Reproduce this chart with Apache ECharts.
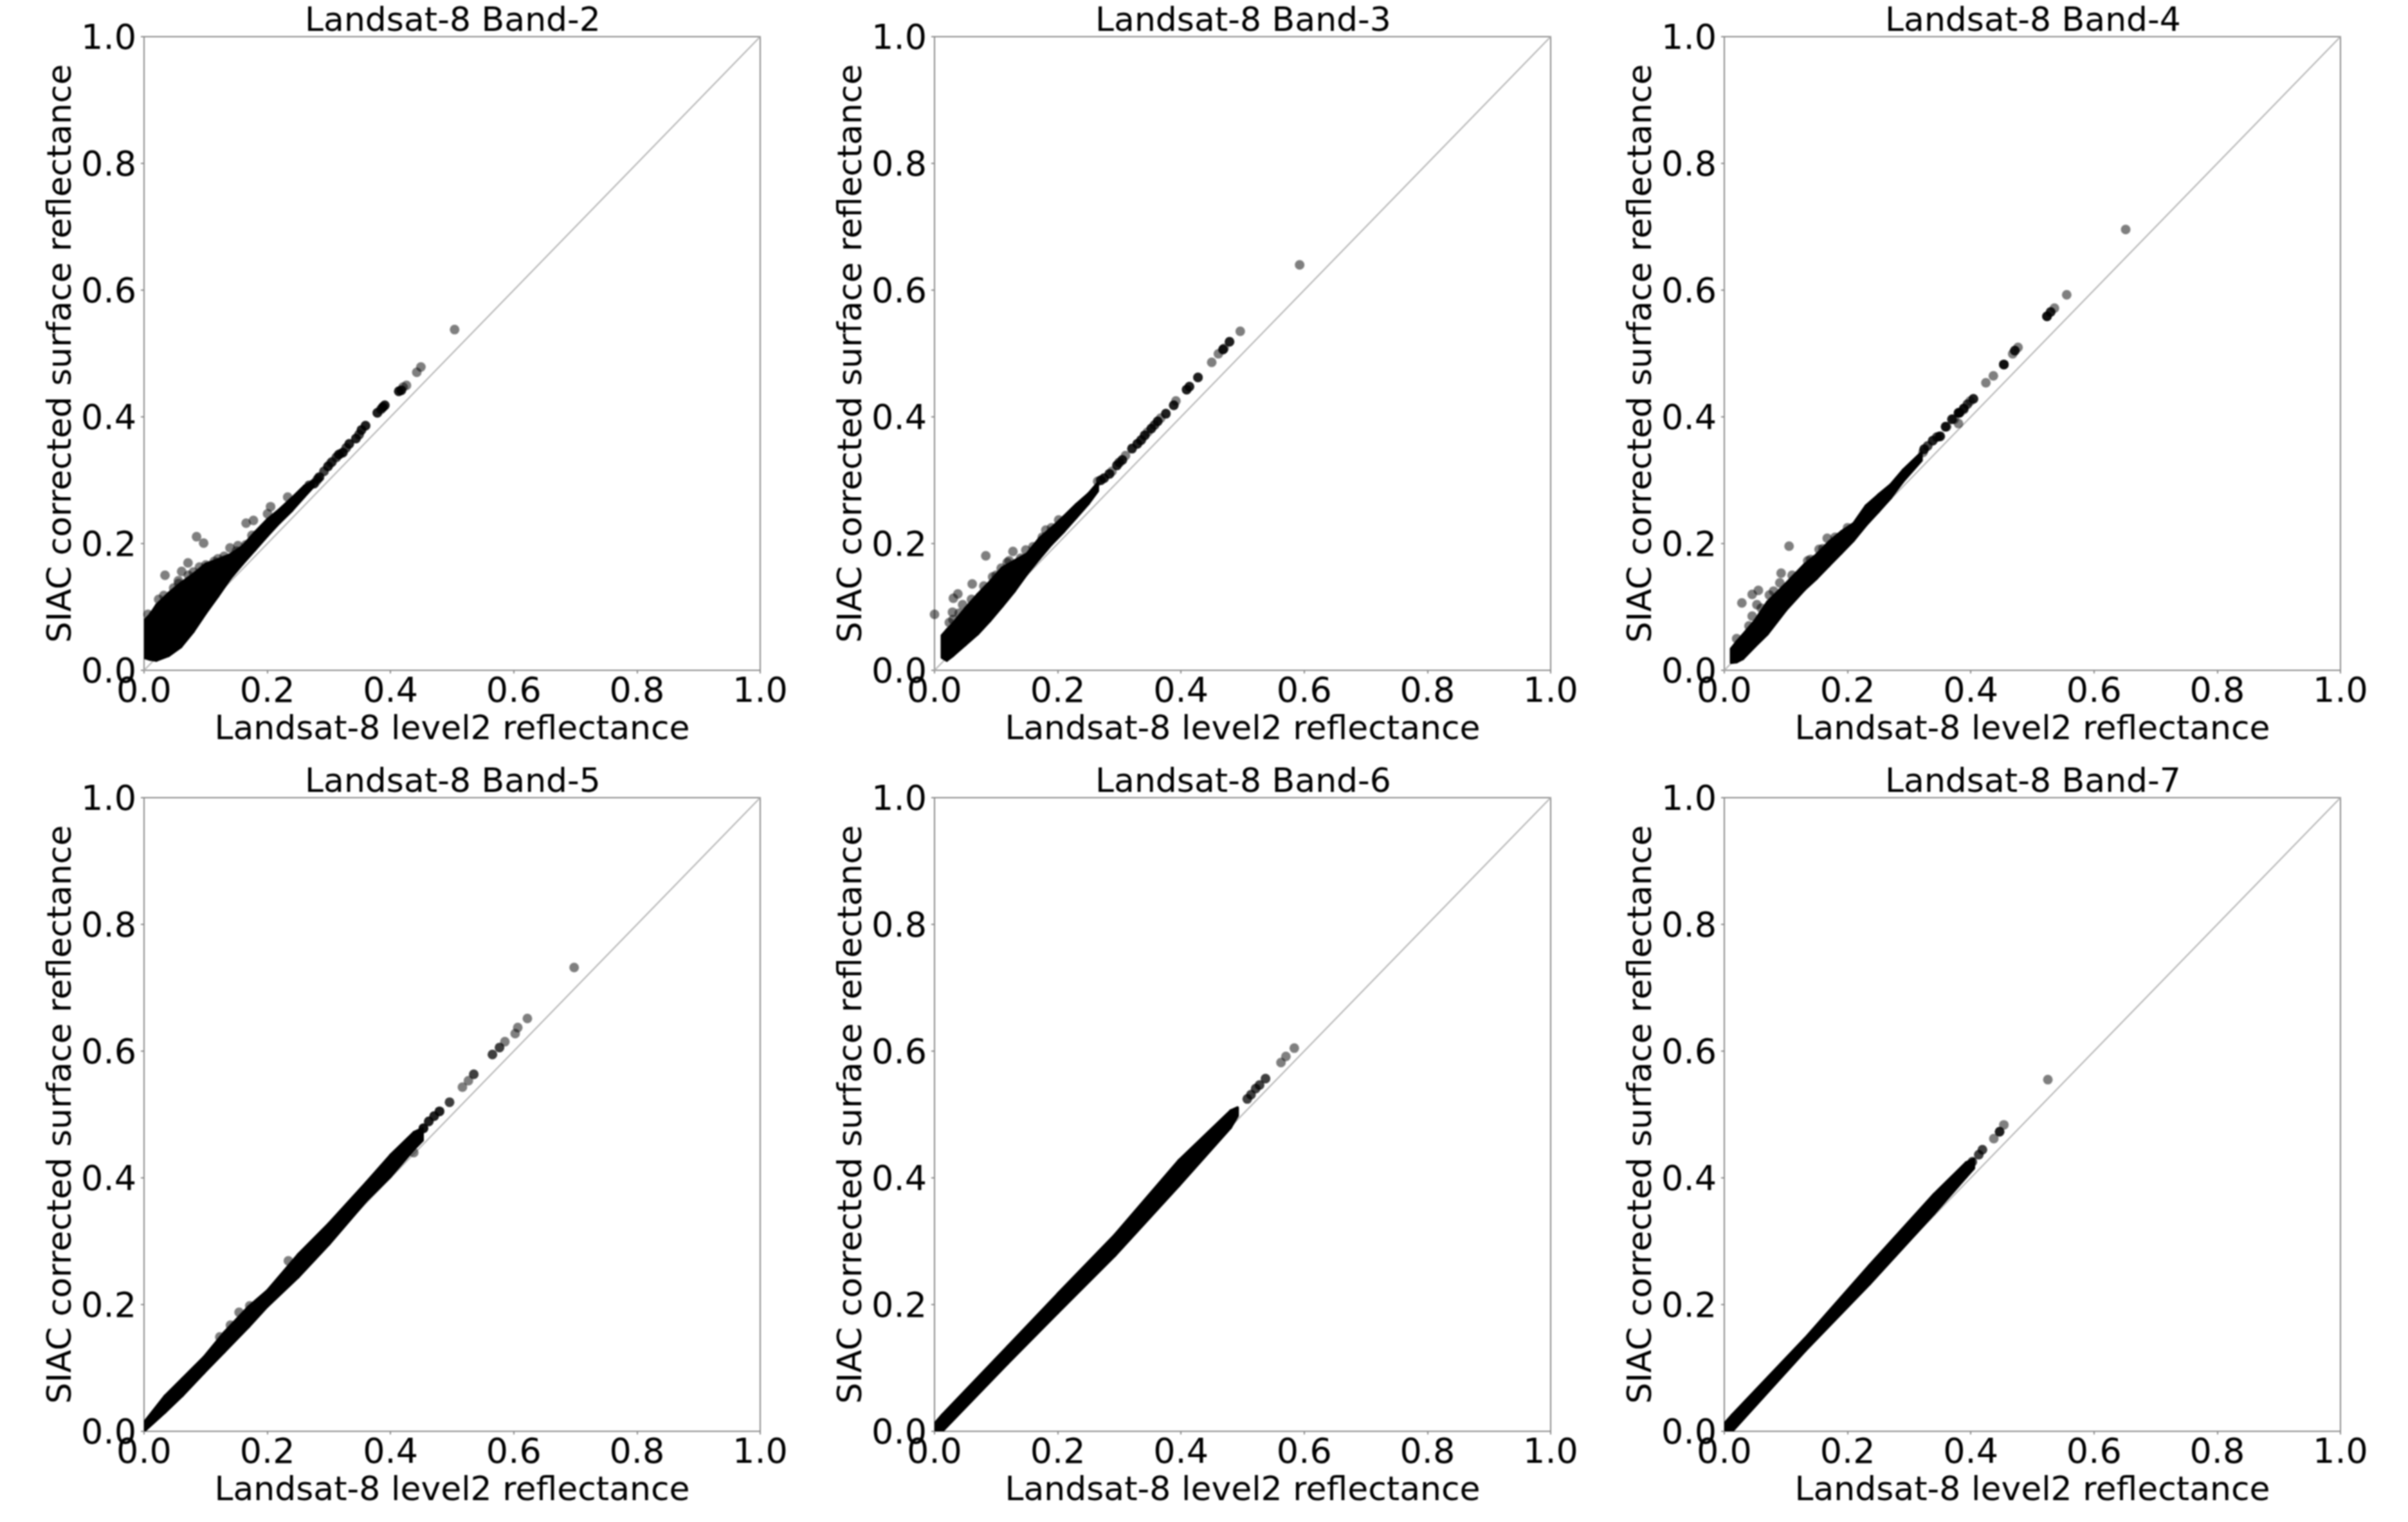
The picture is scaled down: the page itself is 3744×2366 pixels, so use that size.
<!DOCTYPE html>
<html><head><meta charset="utf-8">
<style>html,body{margin:0;padding:0;background:#fff}#c{width:3744px;height:2366px;filter:blur(1px)}</style>
<script src="https://cdn.jsdelivr.net/npm/echarts@6/dist/echarts.min.js"></script>
</head><body><div id="c"></div>
<script>
const tickValues=[0,0.2,0.4,0.6,0.8,1.0];
const xAxisName='Landsat-8 level2 reflectance';
const yAxisName='SIAC corrected surface reflectance';
const panelTitles=['Landsat-8 Band-2','Landsat-8 Band-3','Landsat-8 Band-4','Landsat-8 Band-5','Landsat-8 Band-6','Landsat-8 Band-7'];
const oneToOne=[[0,0],[1,1]];

// dense, fully saturated part of each scatter: x, lower and upper edge
const band2X=[0,.01,.02,.04,.06,.08,.10,.12,.14,.16,.18,.20,.22,.24,.26,.275];
const band2High=[.078,.088,.103,.122,.138,.152,.168,.175,.183,.196,.218,.238,.254,.272,.291,.298];
const band2Low=[.02,.017,.0155,.023,.037,.061,.09,.117,.145,.168,.19,.212,.233,.252,.274,.29];
const band3X=[.012,.02,.03,.05,.07,.09,.11,.13,.15,.17,.19,.21,.23,.25,.265];
const band3High=[.055,.064,.074,.098,.12,.14,.162,.173,.184,.208,.225,.243,.262,.279,.296];
const band3Low=[.02,.0155,.023,.04,.057,.078,.101,.125,.152,.176,.199,.219,.241,.263,.283];
const band4X=[.011,.02,.03,.05,.07,.10,.13,.15,.17,.19,.21,.23,.25,.27,.29,.32];
const band4High=[.034,.045,.056,.079,.108,.137,.167,.183,.203,.219,.232,.26,.277,.293,.316,.344];
const band4Low=[.012,.013,.018,.038,.057,.095,.127,.145,.165,.185,.205,.229,.25,.272,.298,.331];
const band5X=[0,.034,.062,.097,.13,.17,.2,.25,.3,.36,.4,.438,.452];
const band5High=[.014,.056,.083,.117,.156,.197,.222,.279,.328,.392,.436,.472,.478];
const band5Low=[0,.03,.056,.092,.125,.165,.197,.243,.295,.363,.402,.445,.459];
const band6X=[0,.0125,.1187,.2,.2926,.397,.4805,.492];
const band6High=[.012,.026,.134,.217,.31,.428,.506,.511];
const band6Low=[0,0,.107,.187,.277,.388,.479,.498];
const band7X=[0,.0128,.1312,.2356,.34,.3922,.405];
const band7High=[.012,.026,.147,.262,.374,.424,.43];
const band7Low=[0,0,.127,.232,.343,.401,.415];

// individually visible points
const band2Points=[[.034,.150],[.061,.156],[.0713,.1695],[.0557,.1414],[.0852,.2108],[.0967,.2007],[.1395,.1932],[.1524,.1966],[.1138,.1719],[.1002,.1662],[.1656,.2322],[.1775,.2365],[.2004,.247],[.2053,.2582],[.2331,.2734],[.0063,.0883],[.015,.087],[.0237,.112],[.032,.118],[.048,.13],[.056,.137],[.072,.15],[.08,.155],[.09,.163],[.12,.176],[.13,.18],[.15,.188],[.165,.198],[.175,.213],
[.2759,.2947],[.28,.299],[.2846,.3049],[.2985,.3218],[.303,.327],[.316,.3404],[.3227,.3436],[.319,.342],[.333,.3574],[.3438,.3658],[.3528,.3793],[.3594,.3861],[.3786,.4064],[.3873,.415],[.3907,.4182],[.388,.416],[.4134,.4403],[.4175,.442],[.4204,.447],[.4259,.4497],[.4426,.4703],[.4493,.4787],[.504,.5377]];
const band3Points=[[0,.0883],[.0832,.1807],[.1273,.1875],[.1211,.1729],[.0612,.1363],[.0379,.1205],[.0306,.1137],[.0292,.0917],[.024,.0754],[.0456,.1036],[.1482,.1898],[.1806,.2213],[.2015,.2373],[.0943,.1475],[.1082,.1611],[.03,.08],[.04,.09],[.06,.112],[.08,.133],[.1,.15],[.118,.17],[.14,.177],[.16,.195],[.175,.21],[.19,.225],
[.2648,.2982],[.27,.3],[.2753,.3033],[.2839,.31],[.288,.314],[.2961,.3235],[.3048,.332],[.31,.3388],[.3205,.3499],[.3291,.3574],[.3361,.3641],[.3413,.3709],[.346,.376],[.3518,.3815],[.3622,.3929],[.367,.398],[.3755,.405],[.3883,.4183],[.3918,.4251],[.4092,.443],[.4137,.4477],[.4276,.4622],[.4499,.486],[.4607,.4995],[.4683,.5063],[.47,.508],[.4788,.5186],[.4962,.535],[.5926,.6399]];
const band4Points=[[.1051,.1959],[.0922,.1533],[.0901,.1381],[.0553,.1262],[.0452,.1198],[.0285,.1063],[.0529,.1036],[.0452,.0856],[.0731,.1188],[.167,.2084],[.1538,.1909],[.1354,.1729],[.02,.05],[.04,.07],[.06,.098],[.08,.125],[.11,.15],[.14,.175],[.16,.192],[.18,.21],[.2,.225],
[.3243,.3489],[.3225,.3439],[.3382,.3624],[.3486,.3692],[.3504,.3693],[.3591,.3844],[.3609,.3845],[.3695,.3962],[.373,.3963],[.38,.4064],[.38,.3895],[.3817,.4064],[.3886,.4115],[.3886,.4132],[.3991,.425],[.4043,.4284],[.4245,.4538],[.4367,.4647],[.4537,.4826],[.4537,.4826],[.468,.4995],[.4715,.5046],[.4767,.5096],[.5237,.5587],[.5296,.5655],[.5237,.5587],[.5358,.5716],[.5557,.5926],[.6514,.6957]];
const band5Points=[[.2342,.269],[.1542,.1878],[.1715,.198],[.1402,.1675],[.1229,.1489],[.4377,.4399],
[.4534,.4782],[.4534,.4782],[.4621,.4891],[.4708,.4975],[.4795,.5049],[.4958,.5194],[.4958,.5194],[.5167,.5431],[.5264,.5533],[.5351,.5635],[.5351,.5635],[.5654,.5946],[.5654,.5946],[.5769,.6057],[.5769,.6057],[.5856,.6149],[.6023,.6277],[.6065,.6372],[.6221,.6515],[.698,.732]];
const band6Points=[[.5076,.5245],[.5076,.5245],[.5136,.5312],[.5136,.5312],[.5212,.5408],[.5212,.5408],[.5275,.5465],[.5275,.5465],[.5372,.5566],[.5372,.5566],[.5623,.582],[.5703,.5916],[.5839,.6047]];
const band7Points=[[.3922,.4145],[.3922,.4145],[.4026,.4254],[.4026,.4254],[.413,.4365],[.413,.4365],[.4189,.4444],[.4189,.4444],[.4374,.4619],[.4468,.4729],[.4468,.4729],[.4468,.4729],[.4537,.4836],[.5251,.555]];

// tight clusters, where several observations overplot until nearly black
const band2Cluster=[[.268,.292],[.276,.2947],[.282,.302],[.2846,.3049],[.292,.314],[.2985,.3218],[.305,.329],[.312,.336],[.316,.3404],[.3227,.3436],[.328,.351],[.333,.3574],[.3438,.3658],[.349,.372],[.3528,.3793],[.3594,.3861],[.3786,.4064],[.3845,.412],[.3873,.415],[.3907,.4182],[.4134,.4403],[.4175,.442]];
const band3Cluster=[[.27,.3],[.2753,.3033],[.2839,.31],[.2961,.3235],[.3,.328],[.3048,.332],[.3205,.3499],[.3291,.3574],[.335,.363],[.3413,.3709],[.3518,.3815],[.357,.387],[.3622,.3929],[.3755,.405],[.3883,.4183],[.4092,.443],[.4137,.4477],[.4276,.4622],[.4683,.5063],[.4788,.5186]];
const band4Cluster=[[.3243,.3489],[.33,.354],[.3382,.3624],[.345,.368],[.3504,.3693],[.3591,.3844],[.3695,.3962],[.38,.4064],[.3817,.4064],[.3886,.4132],[.3946,.42],[.4043,.4284],[.4537,.4826],[.4715,.5046],[.5237,.5587],[.5296,.5655]];
const band5Cluster=[[.4534,.4782],[.4621,.4891],[.4708,.4975],[.4795,.5049]];
const band6Cluster=[];
const band7Cluster=[];

const bands=[[band2X,band2Low,band2High,band2Points,band2Cluster],[band3X,band3Low,band3High,band3Points,band3Cluster],[band4X,band4Low,band4High,band4Points,band4Cluster],
             [band5X,band5Low,band5High,band5Points,band5Cluster],[band6X,band6Low,band6High,band6Points,band6Cluster],[band7X,band7Low,band7High,band7Points,band7Cluster]];

const FONT='DejaVu Sans', TICK=54, NAME=52, TITLE=52, AXIS='#8c8c8c';
const lefts=[224,1453,2681], tops=[57,1240], W=958, H=985;
const grid=[],xAxis=[],yAxis=[],series=[],title=[];
bands.forEach((b,i)=>{
  const L=lefts[i%3],T=tops[Math.floor(i/3)];
  grid.push({left:L,top:T,width:W,height:H,show:true,borderColor:AXIS,borderWidth:2,backgroundColor:'#fff'});
  title.push({text:panelTitles[i],left:L+W/2-4,top:T-54,textAlign:'center',textStyle:{fontFamily:FONT,fontSize:TITLE,fontWeight:'normal',color:'#000'}});
  const common={type:'value',min:0,max:1,interval:.2,gridIndex:i,splitLine:{show:false},
    axisLine:{show:true,onZero:false,lineStyle:{color:AXIS,width:2}},
    axisTick:{show:true,length:5,lineStyle:{color:AXIS,width:2}},
    nameLocation:'middle',nameTextStyle:{fontFamily:FONT,fontSize:NAME,color:'#000'}};
  const lab=(m,extra)=>({show:true,margin:m,fontFamily:FONT,fontSize:TICK,color:'#000',hideOverlap:false,showMinLabel:true,showMaxLabel:true,
    formatter:v=>tickValues.find(t=>Math.abs(t-v)<1e-9).toFixed(1),...extra});
  xAxis.push({...common,name:xAxisName,nameGap:67,axisLabel:lab(8,{})});
  yAxis.push({...common,name:yAxisName,nameGap:96,nameRotate:90,axisLabel:lab(12,{verticalAlign:'top',lineHeight:10})});
  series.push({type:'line',xAxisIndex:i,yAxisIndex:i,data:oneToOne,symbol:'none',silent:true,lineStyle:{color:'#b4b4b4',width:2},z:2});
  const rows=b[0].map((x,k)=>[x,b[1][k],b[2][k]]);
  series.push({type:'custom',xAxisIndex:i,yAxisIndex:i,data:rows,silent:true,z:3,clip:true,encode:{x:0,y:[1,2]},
    renderItem:(p,api)=>{
      const k=p.dataIndex; if(k>=rows.length-1) return null;
      const a=rows[k],c=rows[k+1];
      const pts=[api.coord([a[0],a[1]]),api.coord([c[0],c[1]]),api.coord([c[0],c[2]]),api.coord([a[0],a[2]])];
      return {type:'polygon',shape:{points:pts},style:{fill:'#000',stroke:'#000',lineWidth:4,lineJoin:'round'}};
    }});
  series.push({type:'scatter',xAxisIndex:i,yAxisIndex:i,data:b[3].concat(b[4],b[4]),symbol:'circle',symbolSize:15,silent:true,z:4,itemStyle:{color:'#000',opacity:.5}});
});
const chart=echarts.init(document.getElementById('c'),null,{renderer:'canvas',width:3744,height:2366});
chart.setOption({animation:false,backgroundColor:'#fff',title,grid,xAxis,yAxis,series});
</script></body></html>
